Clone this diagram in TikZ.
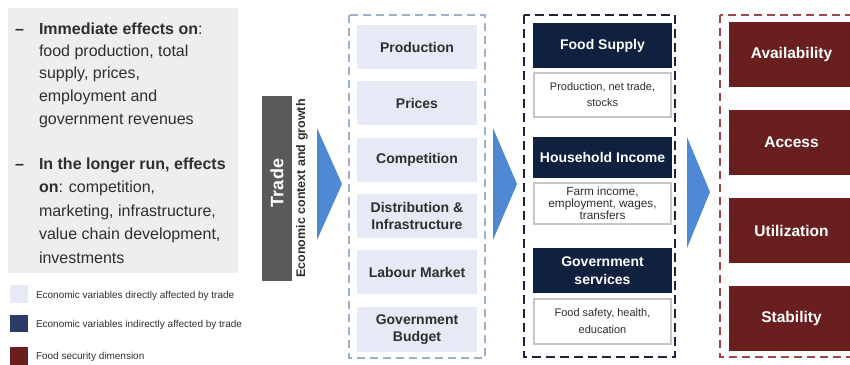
\documentclass[tikz,border=0pt]{standalone}
\usepackage{fontspec}
\setmainfont{Liberation Sans}
\definecolor{panelgrey}{HTML}{EEEEEE}
\definecolor{lav}{HTML}{E6E9F6}
\definecolor{lavdash}{HTML}{9FB1C9}
\definecolor{navy}{HTML}{10213F}
\definecolor{navydash}{HTML}{1E2538}
\definecolor{legnavy}{HTML}{2C3A66}
\definecolor{wine}{HTML}{6A1F1F}
\definecolor{winedash}{HTML}{A0474A}
\definecolor{arrowblue}{HTML}{4F88D3}
\definecolor{tradegrey}{HTML}{5A5A5A}
\definecolor{txt}{HTML}{2E2E2E}
\definecolor{subborder}{HTML}{C6C6C6}
\begin{document}
\begin{tikzpicture}[x=1pt,y=-1pt,
  every node/.style={inner sep=0pt, outer sep=0pt},
  lefttxt/.style={anchor=base west, text=txt, font=\fontsize{16}{19}\selectfont},
  legtxt/.style={anchor=base west, text=txt, font=\fontsize{10}{12}\selectfont},
  varbox/.style={fill=lav, minimum width=120, minimum height=44, align=center, text=txt,
     font=\bfseries\fontsize{14}{17.5}\selectfont},
  headbox/.style={fill=navy, minimum width=139, align=center, text=white,
     font=\bfseries\fontsize{14}{17.5}\selectfont},
  subbox/.style={fill=white, draw=subborder, line width=2pt, minimum width=137, align=center, text=txt,
     font=\fontsize{11}{16}\selectfont},
  fsbox/.style={fill=wine, minimum width=125, minimum height=65, align=center, text=white,
     font=\bfseries\fontsize{15.5}{18}\selectfont},
  flowarrow/.style={fill=arrowblue, draw=none}
]
\useasboundingbox (0,0) rectangle (850,364);
\clip (0,0) rectangle (850,364);

% left panel
\fill[panelgrey] (8,8) rectangle (238,273);
\node[lefttxt, font=\bfseries\fontsize{16}{19}\selectfont] (d1) at (15,34) {–};
\node[lefttxt] (l1) at (39,34) {\textbf{Immediate effects on}:};
\node[lefttxt] (l2) at (39,56) {food production, total};
\node[lefttxt] (l3) at (39,78) {supply, prices,};
\node[lefttxt] (l4) at (39,101) {employment and};
\node[lefttxt] (l5) at (39,124) {government revenues};
\node[lefttxt, font=\bfseries\fontsize{16}{19}\selectfont] (d2) at (15,169) {–};
\node[lefttxt] (m1) at (39,169) {\textbf{In the longer run, effects}};
\node[lefttxt] (m2) at (39,192) {\textbf{on}: competition,};
\node[lefttxt] (m3) at (39,216) {marketing, infrastructure,};
\node[lefttxt] (m4) at (39,239) {value chain development,};
\node[lefttxt] (m5) at (39,263) {investments};

% legend
\fill[lav] (10,285) rectangle (28,303);
\fill[legnavy] (10,315) rectangle (28,332);
\fill[wine] (10,347) rectangle (28,365);
\node[legtxt] (g1) at (36,298.5) {Economic variables directly affected by trade};
\node[legtxt] (g2) at (36,327.5) {Economic variables indirectly affected by trade};
\node[legtxt] (g3) at (36,359.5) {Food security dimension};

% trade bar
\node[fill=tradegrey, minimum width=30, minimum height=185] (tradebar) at (277,188.5) {};
\node[rotate=90, text=white, font=\bfseries\fontsize{18}{20}\selectfont] (trade) at (277,183) {Trade};
\node[rotate=90, text=txt, font=\bfseries\fontsize{12.5}{14}\selectfont] (ctx) at (302,188.5) {Economic context and growth};

% arrows
\fill[flowarrow] (317,128) -- (342,184) -- (317,240) -- cycle;
\fill[flowarrow] (493,128) -- (517,184) -- (493,240) -- cycle;
\fill[flowarrow] (687,137) -- (710,192) -- (687,248) -- cycle;

% column 1
\draw[lavdash, line width=2pt, dash pattern=on 8pt off 5pt] (349,15) rectangle (485,358);
\node[varbox] (prod) at (417,47) {Production};
\node[varbox] (price) at (417,103) {Prices};
\node[varbox] (comp) at (417,160) {Competition};
\node[varbox] (dist) at (417,216) {Distribution \&\\Infrastructure};
\node[varbox] (lab) at (417,272) {Labour Market};
\node[varbox, minimum height=45] (gov) at (417,329.5) {Government\\Budget};

% column 2
\draw[navydash, line width=2.5pt, dash pattern=on 9pt off 5pt] (524,15) rectangle (675,357);
\node[headbox, minimum height=45] (fs) at (602.5,45.5) {Food Supply};
\node[subbox, minimum height=44] (fss) at (602.5,95) {Production, net trade,\\stocks};
\node[headbox, minimum height=41] (hi) at (602.5,157.5) {Household Income};
\node[subbox, minimum height=41, font=\fontsize{11.8}{12}\selectfont] (his) at (602.5,203.5) {Farm income,\\employment, wages,\\transfers};
\node[headbox, minimum height=45] (gs) at (602.5,270.5) {Government\\services};
\node[subbox, minimum height=45, font=\fontsize{11}{17}\selectfont] (gss) at (602.5,321.5) {Food safety, health,\\education};

% column 3
\draw[winedash, line width=2.5pt, dash pattern=on 8pt off 5pt] (720,15) rectangle (880,357);
\node[fsbox] (avail) at (791.5,54.5) {Availability};
\node[fsbox] (acc) at (791.5,142.5) {Access};
\node[fsbox] (util) at (791.5,230.5) {Utilization};
\node[fsbox] (stab) at (791.5,318.5) {Stability};
\end{tikzpicture}
\end{document}
